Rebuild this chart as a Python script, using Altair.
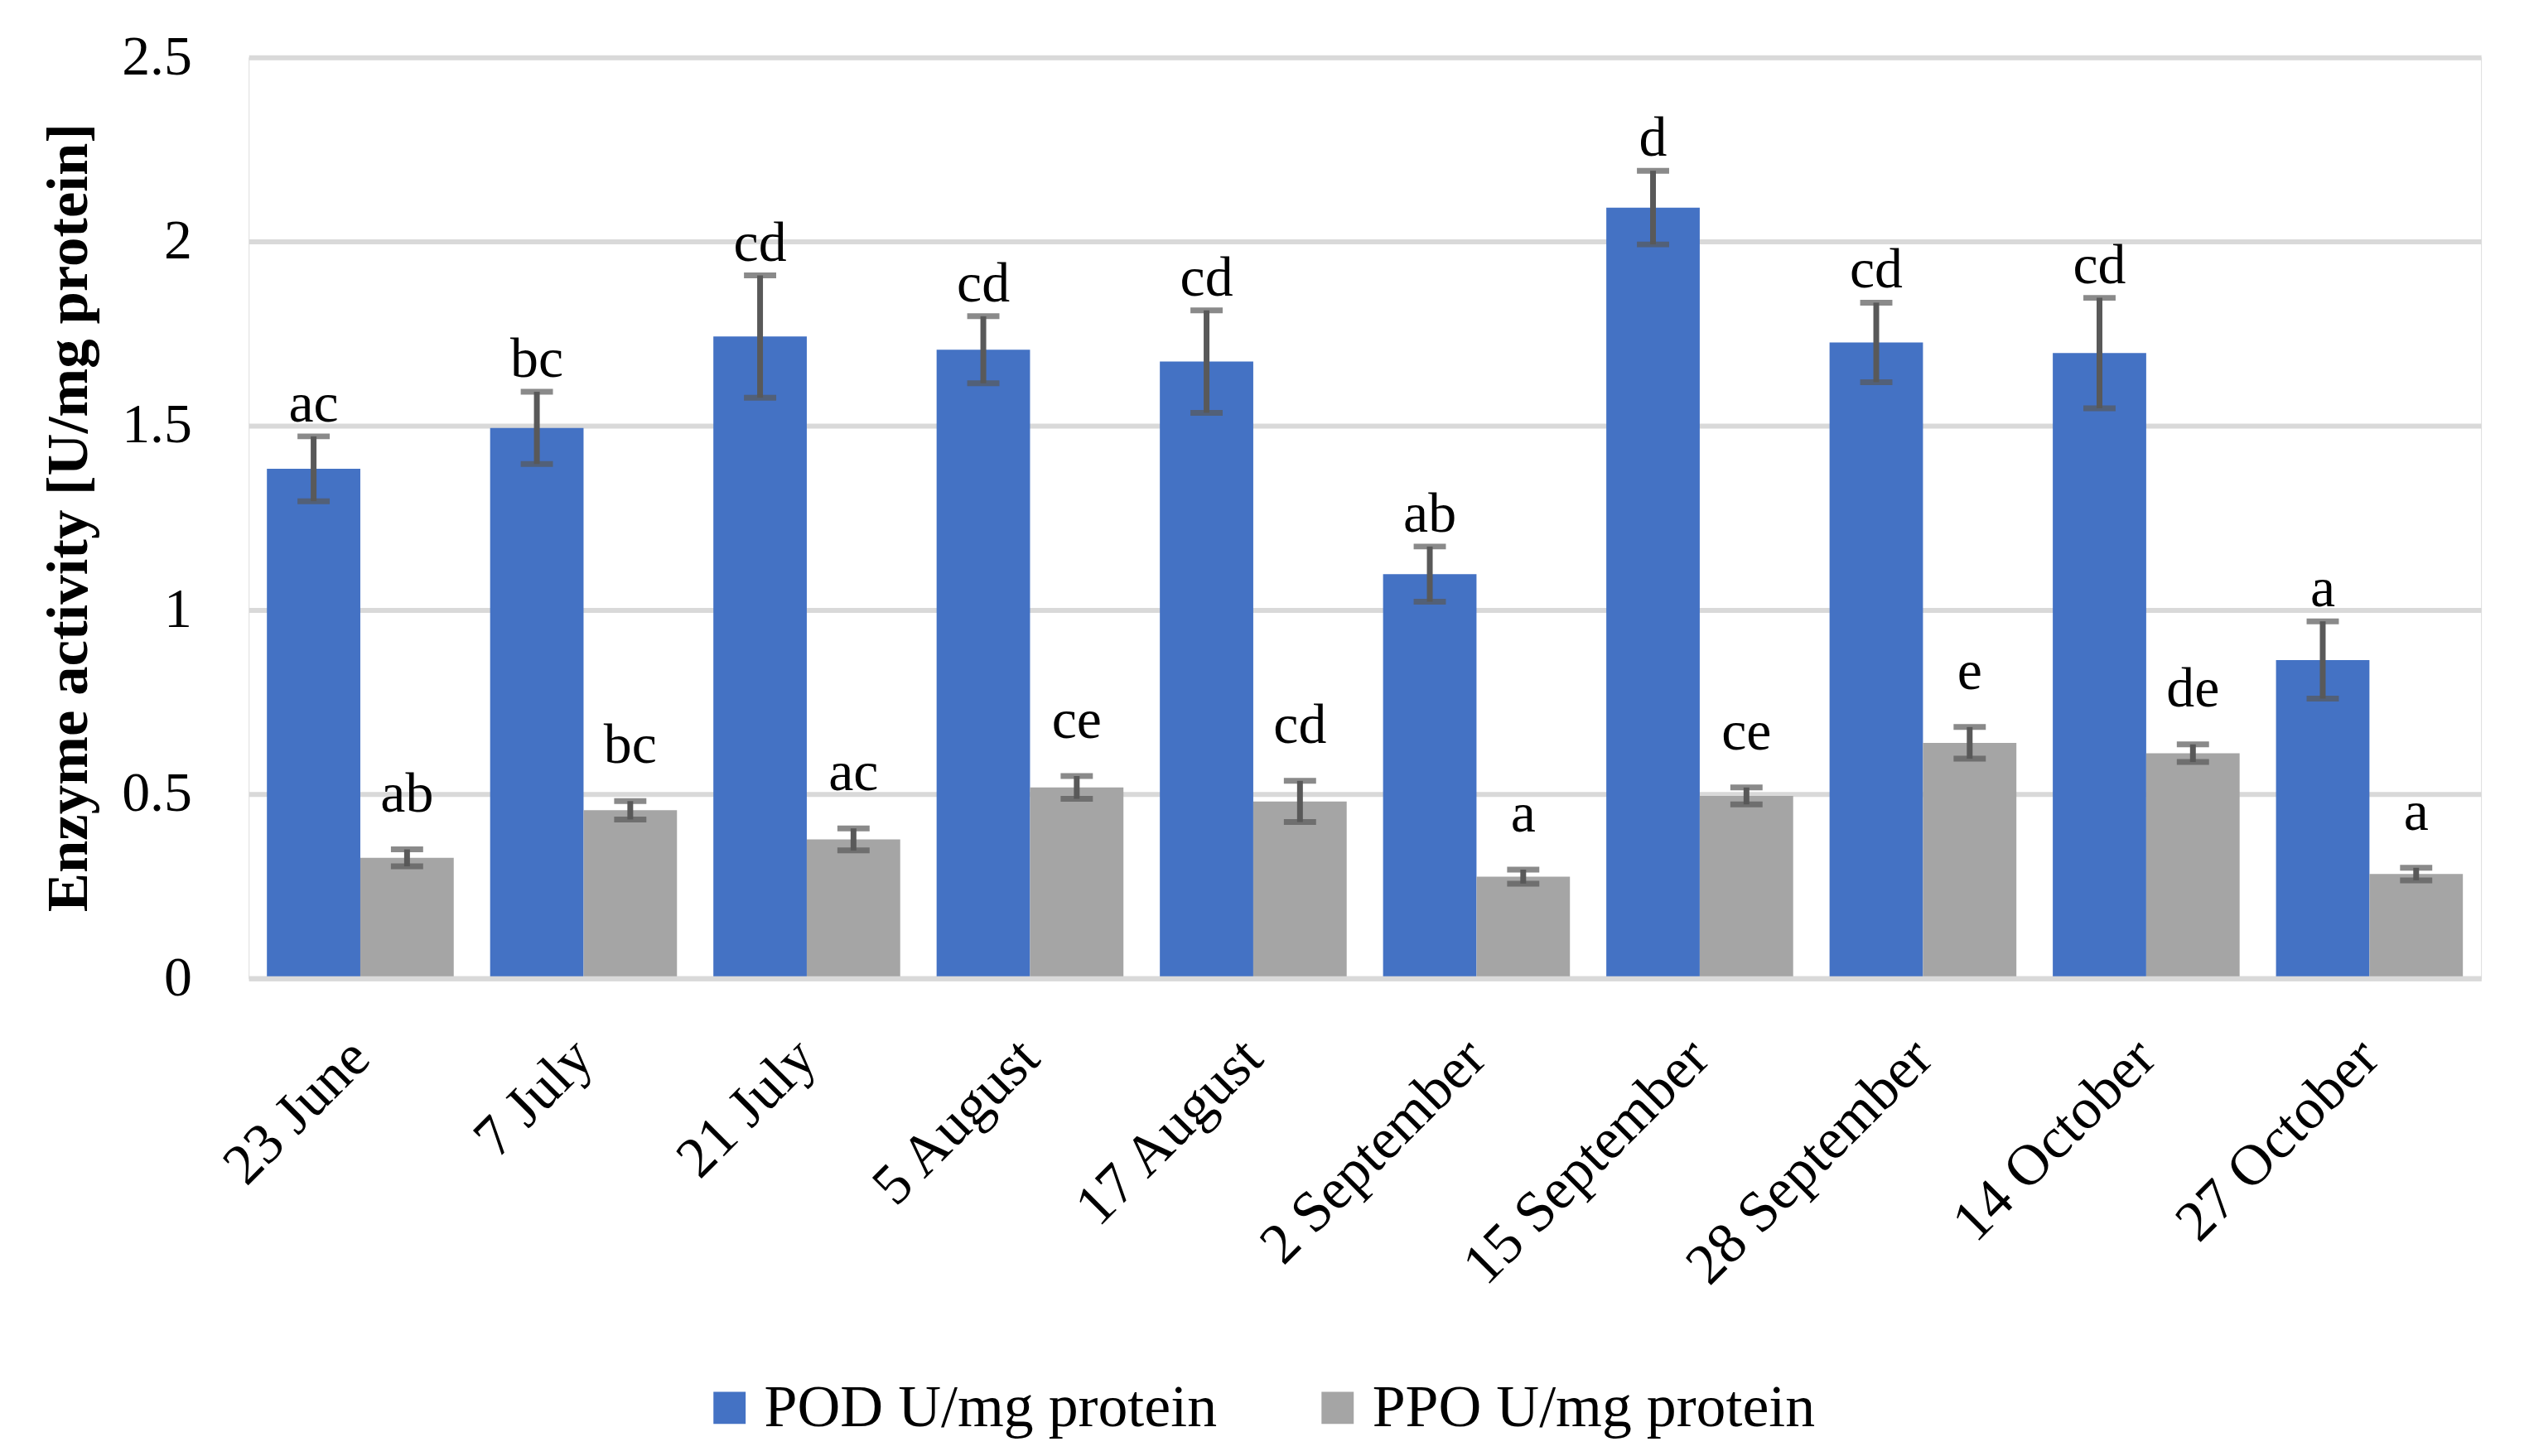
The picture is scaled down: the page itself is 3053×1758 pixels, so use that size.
import altair as alt
import pandas as pd

dates = ["23 June", "7 July", "21 July", "5 August", "17 August",
         "2 September", "15 September", "28 September", "14 October", "27 October"]
series_names = ["POD U/mg protein", "PPO U/mg protein"]
pod = [1.383, 1.494, 1.742, 1.706, 1.674, 1.097, 2.092, 1.726, 1.697, 0.864]
pod_err = [0.088, 0.098, 0.166, 0.091, 0.139, 0.075, 0.100, 0.108, 0.150, 0.105]
ppo = [0.327, 0.456, 0.377, 0.518, 0.480, 0.276, 0.495, 0.639, 0.611, 0.283]
ppo_err = [0.023, 0.025, 0.030, 0.031, 0.056, 0.019, 0.023, 0.043, 0.024, 0.017]
pod_letters = ["ac", "bc", "cd", "cd", "cd", "ab", "d", "cd", "cd", "a"]
ppo_letters = ["ab", "bc", "ac", "ce", "cd", "a", "ce", "e", "de", "a"]
y_ticks = [0, 0.5, 1, 1.5, 2, 2.5]

rows = []
for i, d in enumerate(dates):
    rows.append({"date": d, "series": series_names[0], "value": pod[i],
                 "lo": pod[i] - pod_err[i], "hi": pod[i] + pod_err[i], "letter": pod_letters[i]})
    rows.append({"date": d, "series": series_names[1], "value": ppo[i],
                 "lo": ppo[i] - ppo_err[i], "hi": ppo[i] + ppo_err[i], "letter": ppo_letters[i]})
df = pd.DataFrame(rows)

FONT = "Liberation Serif"
FS = 68

x_enc = alt.X("date:N", sort=dates,
              scale=alt.Scale(paddingInner=0.163, paddingOuter=0.0815),
              axis=alt.Axis(title=None, labelAngle=-45, labelAlign="right",
                            labelBaseline="middle", labelPadding=85, ticks=False,
                            labelFont=FONT, labelFontSize=70, labelColor="#000000",
                            domain=True, domainColor="#D9D9D9", domainWidth=6,
                            zindex=1, labelLimit=1000))
xoff = alt.XOffset("series:N", sort=series_names, scale=alt.Scale(paddingInner=0, paddingOuter=0))
y_scale = alt.Scale(domain=[0, 2.5], nice=False)

base = alt.Chart(df)

bars = base.mark_bar().encode(
    x=x_enc,
    xOffset=xoff,
    y=alt.Y("value:Q", scale=y_scale,
            axis=alt.Axis(values=y_ticks, format=".1~f", ticks=False, domain=False,
                          grid=True, gridColor="#D9D9D9", gridWidth=6,
                          labelFont=FONT, labelFontSize=FS, labelColor="#000000",
                          labelPadding=69,
                          title="Enzyme activity [U/mg protein]",
                          titleFont=FONT, titleFontSize=71, titleFontWeight="bold",
                          titleColor="#000000", titleX=-217, titleY=557,
                          titleBaseline="middle", titleAngle=-90)),
    color=alt.Color("series:N", sort=series_names,
                    scale=alt.Scale(domain=series_names, range=["#4472C4", "#A5A5A5"]),
                    legend=alt.Legend(title=None, orient="none", direction="horizontal",
                                      legendX=546, legendY=1599,
                                      symbolType="square", symbolSize=1521,
                                      symbolStrokeWidth=0, labelFont=FONT,
                                      labelFontSize=72, labelColor="#000000",
                                      labelOffset=6, columnPadding=110,
                                      labelLimit=1000)),
)

rule = base.mark_rule(color="#595959", strokeWidth=7).encode(
    x=alt.X("date:N", sort=dates), xOffset=xoff,
    y=alt.Y("lo:Q", scale=y_scale), y2="hi:Q")

cap_lo = base.mark_tick(color="#595959", thickness=7, size=39, orient="horizontal").encode(
    x=alt.X("date:N", sort=dates), xOffset=xoff, y=alt.Y("lo:Q", scale=y_scale))
cap_hi = base.mark_tick(color="#595959", thickness=7, size=39, orient="horizontal").encode(
    x=alt.X("date:N", sort=dates), xOffset=xoff, y=alt.Y("hi:Q", scale=y_scale))

text_pod = base.transform_filter(alt.datum.series == series_names[0]).mark_text(
    font=FONT, fontSize=FS, color="#000000", baseline="alphabetic", dy=-18).encode(
    x=alt.X("date:N", sort=dates), xOffset=xoff, y=alt.Y("hi:Q", scale=y_scale),
    text="letter:N")
text_ppo = base.transform_filter(alt.datum.series == series_names[1]).mark_text(
    font=FONT, fontSize=FS, color="#000000", baseline="alphabetic", dy=-46).encode(
    x=alt.X("date:N", sort=dates), xOffset=xoff, y=alt.Y("hi:Q", scale=y_scale),
    text="letter:N")

chart = alt.layer(bars, rule, cap_lo, cap_hi, text_pod, text_ppo).properties(
    width=2702, height=1115,
    autosize=alt.AutoSizeParams(type="none"),
    padding={"left": 293, "top": 59, "right": 50, "bottom": 576},
).configure_view(stroke=None).configure(background="#FFFFFF")

chart.save("out.html", embed_options={"renderer": "svg", "actions": False})
